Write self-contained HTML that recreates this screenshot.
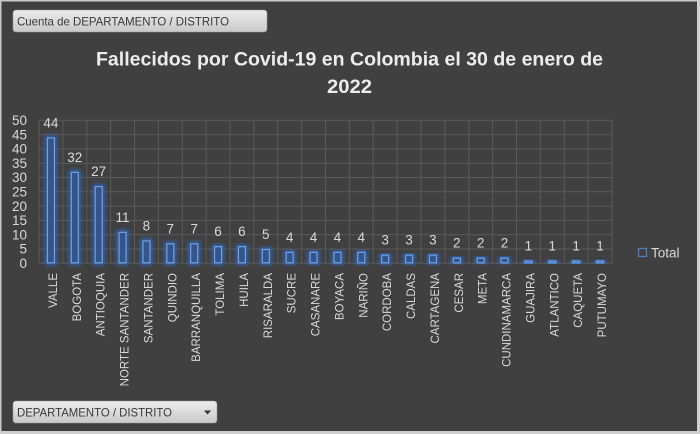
<!DOCTYPE html>
<html><head><meta charset="utf-8"><style>
html,body{margin:0;padding:0;background:#404040;}
svg{display:block;}
text{font-family:"Liberation Sans",sans-serif;}
</style></head><body>
<svg width="700" height="434" viewBox="0 0 700 434" xmlns="http://www.w3.org/2000/svg">
<defs>
<linearGradient id="btn" x1="0" y1="0" x2="0" y2="1">
<stop offset="0" stop-color="#ececec"/><stop offset="1" stop-color="#c9c9c9"/>
</linearGradient>
<filter id="glow" x="-100%" y="-20%" width="300%" height="140%">
<feGaussianBlur stdDeviation="2"/>
</filter>
</defs>
<rect x="0" y="0" width="700" height="434" fill="#404040"/>
<rect x="0.75" y="0.75" width="697.5" height="431.5" fill="none" stroke="#c8c8c8" stroke-width="1.5"/>
<rect x="697" y="0" width="3" height="434" fill="#cfcfcf"/>
<rect x="0" y="431" width="700" height="3" fill="#cfcfcf"/>

<!-- top button -->
<rect x="13" y="10" width="254" height="22" rx="3" fill="url(#btn)" stroke="#9a9a9a" stroke-width="0.6"/>
<text x="17" y="25.5" font-size="12" fill="#3a3a3a" textLength="212" lengthAdjust="spacingAndGlyphs">Cuenta de DEPARTAMENTO / DISTRITO</text>

<!-- title -->
<text x="349.5" y="65.5" font-size="19" font-weight="bold" fill="#ececec" text-anchor="middle" textLength="507" lengthAdjust="spacingAndGlyphs">Fallecidos por Covid-19 en Colombia el 30 de enero de</text>
<text x="349.5" y="93" font-size="19" font-weight="bold" fill="#ececec" text-anchor="middle" textLength="45" lengthAdjust="spacingAndGlyphs">2022</text>

<!-- grid -->
<g stroke="#5a5a5a" stroke-width="1">
<line x1="39" y1="120.3" x2="612" y2="120.3"/>
<line x1="39" y1="134.6" x2="612" y2="134.6"/>
<line x1="39" y1="148.9" x2="612" y2="148.9"/>
<line x1="39" y1="163.2" x2="612" y2="163.2"/>
<line x1="39" y1="177.5" x2="612" y2="177.5"/>
<line x1="39" y1="191.8" x2="612" y2="191.8"/>
<line x1="39" y1="206.1" x2="612" y2="206.1"/>
<line x1="39" y1="220.4" x2="612" y2="220.4"/>
<line x1="39" y1="234.7" x2="612" y2="234.7"/>
<line x1="39" y1="249.0" x2="612" y2="249.0"/>
<line x1="39" y1="263.3" x2="612" y2="263.3"/>
</g>
<g stroke="#5a5a5a" stroke-width="1" id="vgrid"></g>

<!-- y labels -->
<g font-size="13.5" fill="#d9d9d9" text-anchor="end">
<text x="27" y="125">50</text>
<text x="27" y="139.3">45</text>
<text x="27" y="153.6">40</text>
<text x="27" y="167.9">35</text>
<text x="27" y="182.2">30</text>
<text x="27" y="196.5">25</text>
<text x="27" y="210.8">20</text>
<text x="27" y="225.1">15</text>
<text x="27" y="239.4">10</text>
<text x="27" y="253.7">5</text>
<text x="27" y="268">0</text>
</g>

<g id="bars"></g>

<!-- legend -->
<rect x="638.5" y="248.5" width="8" height="8" fill="none" stroke="#4f7ec4" stroke-width="1.2"/>
<text x="651" y="257.5" font-size="13.5" fill="#d9d9d9">Total</text>

<!-- bottom button -->
<rect x="13" y="401" width="204" height="22" rx="3" fill="url(#btn)" stroke="#9a9a9a" stroke-width="0.6"/>
<text x="17" y="416.5" font-size="12" fill="#3a3a3a" textLength="155" lengthAdjust="spacingAndGlyphs">DEPARTAMENTO / DISTRITO</text>
<path d="M204 410.5 L211 410.5 L207.5 414.5 Z" fill="#333"/>

<g id="content">
</g>
</svg>
<script>
(function(){
var ns="http://www.w3.org/2000/svg";
var names=["VALLE","BOGOTA","ANTIOQUIA","NORTE SANTANDER","SANTANDER","QUINDIO","BARRANQUILLA","TOLIMA","HUILA","RISARALDA","SUCRE","CASANARE","BOYACA","NARIÑO","CORDOBA","CALDAS","CARTAGENA","CESAR","META","CUNDINAMARCA","GUAJIRA","ATLANTICO","CAQUETA","PUTUMAYO"];
var vals=[44,32,27,11,8,7,7,6,6,5,4,4,4,4,3,3,3,2,2,2,1,1,1,1];
var x0=39,x1=612,n=24,w=(x1-x0)/n,y0=263.3,k=143/50;
var vg=document.getElementById("vgrid");
for(var i=0;i<=n;i++){var l=document.createElementNS(ns,"line");var x=x0+w*i;l.setAttribute("x1",x);l.setAttribute("x2",x);l.setAttribute("y1",120.3);l.setAttribute("y2",263.3);vg.appendChild(l);}
var g=document.getElementById("bars");
function el(t,a,p){var e=document.createElementNS(ns,t);for(var q in a)e.setAttribute(q,a[q]);(p||g).appendChild(e);return e;}
for(var i=0;i<n;i++){
 var cx=x0+w*(i+0.5),v=vals[i],top=y0-v*k,h=y0-top;
 el("rect",{x:cx-4,y:top,width:8,height:h,fill:"none",stroke:"#2f6fd6","stroke-width":3.5,opacity:0.85,filter:"url(#glow)"});
 el("rect",{x:cx-3.5,y:top+0.5,width:7,height:Math.max(h-1,1),fill:"#34548a",stroke:"#6ea3e6","stroke-width":1.2});
 var t=el("text",{x:cx,y:top-10,"font-size":13.5,fill:"#d9d9d9","text-anchor":"middle"});t.textContent=v;
 var lb=el("text",{"font-size":11.5,fill:"#d9d9d9","text-anchor":"end",transform:"translate("+(cx+6)+",273) rotate(-90)"});lb.textContent=names[i];
}
})();
</script>
</body></html>
